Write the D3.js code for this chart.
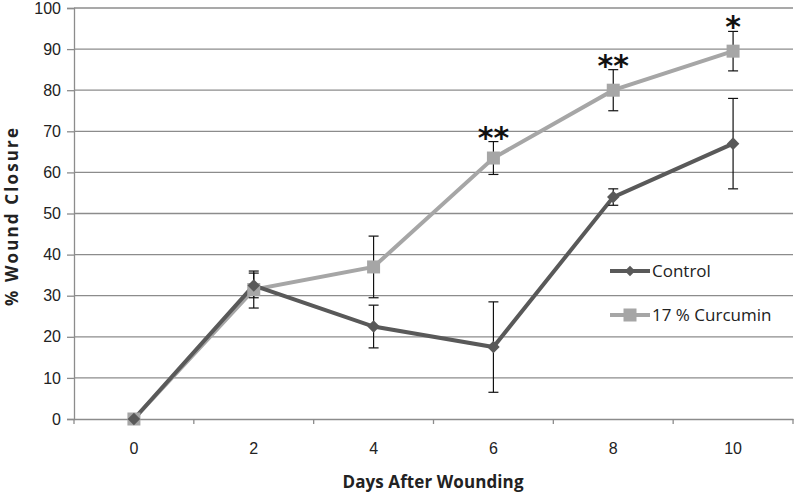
<!DOCTYPE html>
<html><head><meta charset="utf-8">
<script src="https://cdn.jsdelivr.net/npm/d3@7"></script>
<style>body{margin:0;background:#fff}svg{font-family:"Open Sans",sans-serif}</style>
</head><body><svg id="c" width="800" height="494"></svg>
<script>
const days = ["0","2","4","6","8","10"];
const controlVals = [0, 32.5, 22.5, 17.5, 54, 67];
const controlErr = [0, 3, 5.2, 11, 2, 11];
const curcuminVals = [0, 31.5, 37, 63.5, 80, 89.5];
const curcuminErr = [0, 4.5, 7.5, 4, 5, 4.8];
const stars = ["", "", "", "**", "**", "*"];
const yTicks = [0,10,20,30,40,50,60,70,80,90,100];

const svg = d3.select("#c");
const L = 74, R = 793, T = 8, B = 419;
const x = d3.scaleBand().domain(days).range([L, R]);
const y = d3.scaleLinear().domain([0,100]).range([B, T]);
const cx = d => x(d) + x.bandwidth()/2;

// gridlines
svg.append("g").selectAll("line").data(yTicks.slice(1)).join("line")
  .attr("x1", L).attr("x2", R).attr("y1", d=>y(d)).attr("y2", d=>y(d))
  .attr("stroke", "#8c8c8c").attr("stroke-width", 1.3);

// y axis
const ya = svg.append("g").attr("transform",`translate(${L},0)`)
  .call(d3.axisLeft(y).tickValues(yTicks).tickSize(7).tickPadding(6));
ya.select(".domain").attr("stroke","#8c8c8c").attr("stroke-width",1.3);
ya.selectAll(".tick line").attr("stroke","#8c8c8c").attr("stroke-width",1.3);
ya.selectAll("text").attr("font-size",16).attr("fill","#222");

// x axis
const xa = svg.append("g").attr("transform",`translate(0,${B})`)
  .call(d3.axisBottom(x).tickSize(0).tickPadding(24));
xa.select(".domain").attr("stroke","#8c8c8c").attr("stroke-width",1.3);
xa.selectAll("text").attr("font-size",16).attr("fill","#222");
const bounds = days.map(d => x(d)).concat([R]);
svg.append("g").selectAll("line").data(bounds).join("line")
  .attr("x1", d=>d).attr("x2", d=>d).attr("y1", B).attr("y2", B+5)
  .attr("stroke","#8c8c8c").attr("stroke-width",1.3);

// titles
svg.append("text").attr("x", 433).attr("y", 488).attr("text-anchor","middle")
  .attr("font-size",17).attr("font-weight","bold").attr("fill","#222")
  .attr("textLength",181).attr("lengthAdjust","spacing").text("Days After Wounding");
svg.append("text").attr("transform",`translate(18,217) rotate(-90)`).attr("text-anchor","middle")
  .attr("font-size",17).attr("font-weight","bold").attr("fill","#222")
  .attr("textLength",178).attr("lengthAdjust","spacing").text("% Wound Closure");

const line = d3.line().x((d,i)=>cx(days[i])).y(d=>y(d));

function errBars(vals, errs){
  const g = svg.append("g").attr("stroke","#111").attr("stroke-width",1.2);
  vals.forEach((v,i)=>{
    if(!errs[i]) return;
    const X = cx(days[i]);
    g.append("line").attr("x1",X).attr("x2",X).attr("y1",y(v-errs[i])).attr("y2",y(v+errs[i]));
    [v-errs[i], v+errs[i]].forEach(e=> g.append("line").attr("x1",X-5).attr("x2",X+5).attr("y1",y(e)).attr("y2",y(e)));
  });
}

// curcumin
svg.append("path").datum(curcuminVals).attr("d", line).attr("fill","none")
  .attr("stroke","#a6a6a6").attr("stroke-width",4);
// control
svg.append("path").datum(controlVals).attr("d", line).attr("fill","none")
  .attr("stroke","#595959").attr("stroke-width",4);

errBars(curcuminVals, curcuminErr);
errBars(controlVals, controlErr);

svg.append("g").selectAll("rect").data(curcuminVals).join("rect")
  .attr("x",(d,i)=>cx(days[i])-6.5).attr("y",d=>y(d)-6.5).attr("width",13).attr("height",13)
  .attr("fill","#a6a6a6");
svg.append("g").selectAll("path").data(controlVals).join("path")
  .attr("d", d3.symbol(d3.symbolDiamond2, 100))
  .attr("transform",(d,i)=>`translate(${cx(days[i])},${y(d)})`).attr("fill","#595959");

// stars
svg.append("g").selectAll("text").data(stars).join("text")
  .attr("x",(d,i)=>cx(days[i])).attr("y",(d,i)=>y(curcuminVals[i]+curcuminErr[i])+6)
  .attr("text-anchor","middle").attr("font-size",30).attr("font-weight","bold")
  .attr("font-family","DejaVu Sans").attr("fill","#111").text(d=>d);

// legend
const leg = [{n:"Control",c:"#595959",s:"d",yy:271},{n:"17 % Curcumin",c:"#a6a6a6",s:"s",yy:315}];
leg.forEach(l=>{
  svg.append("line").attr("x1",610).attr("x2",650).attr("y1",l.yy).attr("y2",l.yy)
    .attr("stroke",l.c).attr("stroke-width",4);
  if(l.s==="d") svg.append("path").attr("d",d3.symbol(d3.symbolDiamond2,70)).attr("transform",`translate(630,${l.yy})`).attr("fill",l.c);
  else svg.append("rect").attr("x",623.5).attr("y",l.yy-6.5).attr("width",13).attr("height",13).attr("fill",l.c);
  svg.append("text").attr("x",652).attr("y",l.yy).attr("dy","0.35em").attr("font-size",17).attr("fill","#222").text(l.n);
});
</script></body></html>
